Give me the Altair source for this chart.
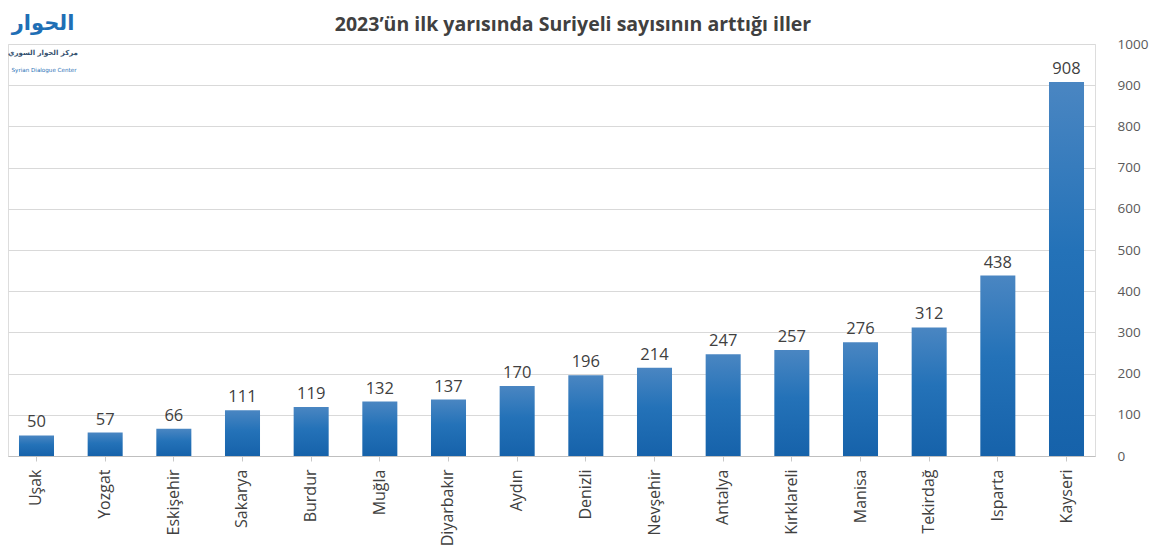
import altair as alt
import pandas as pd

provinces = ["Uşak", "Yozgat", "Eskişehir", "Sakarya", "Burdur", "Muğla", "Diyarbakır", "Aydın",
             "Denizli", "Nevşehir", "Antalya", "Kırklareli", "Manisa", "Tekirdağ", "Isparta", "Kayseri"]
increase = [50, 57, 66, 111, 119, 132, 137, 170, 196, 214, 247, 257, 276, 312, 438, 908]
y_ticks = [0, 100, 200, 300, 400, 500, 600, 700, 800, 900, 1000]
title_text = "2023’ün ilk yarısında Suriyeli sayısının arttığı iller"
logo_texts = ["الحوار", "مركز الحوار السوري", "Syrian Dialogue Center"]

df = pd.DataFrame({"il": provinces, "sayi": increase})

FONT = "Open Sans"
TXT = "#404040"
W, H = 1087, 412

x_enc = alt.X("il:N", sort=provinces, title=None,
              scale=alt.Scale(paddingInner=0.49, paddingOuter=0.16),
              axis=alt.Axis(labelAngle=-90, labelFont=FONT, labelFontSize=16, labelColor=TXT,
                            labelPadding=8, ticks=True, tickSize=5, tickColor="#c8c8c8",
                            domainColor="#bfbfbf", grid=False,
                            labelBaseline="middle", labelAlign="right"))
y_enc = alt.Y("sayi:Q", title=None,
              scale=alt.Scale(domain=[0, 1000], nice=False),
              axis=alt.Axis(orient="right", values=y_ticks, format="d", labelFont=FONT,
                            labelFontSize=13.5, labelColor="#595959", ticks=False, domain=False,
                            labelPadding=22, gridColor="#d9d9d9", gridWidth=1, labelAlign="left"))

bars = alt.Chart(df).mark_bar(
    color=alt.Gradient(gradient="linear", x1=0, x2=0, y1=0, y2=1,
                       stops=[alt.GradientStop(color="#4a86c2", offset=0),
                              alt.GradientStop(color="#2472b8", offset=0.45),
                              alt.GradientStop(color="#1662aa", offset=1)])
).encode(x=x_enc, y=y_enc)

labels = alt.Chart(df).mark_text(font=FONT, fontSize=16.5, color=TXT, dy=-13).encode(
    x=x_enc, y=y_enc, text="sayi:Q")

title = alt.Chart(pd.DataFrame({"t": [title_text]})).mark_text(
    font=FONT, fontSize=19.5, fontWeight="bold", color=TXT, align="center", baseline="alphabetic"
).encode(x=alt.value(565), y=alt.value(-13), text="t:N")

logo_specs = [(logo_texts[0], 35, -20, 21, "#1f6fb5", "bold"),
              (logo_texts[1], 35, 9, 7, "#34506e", "bold"),
              (logo_texts[2], 36, 26, 5.6, "#1f6fb5", "normal")]
logo_layers = []
for t, px, py, fs, c, fw in logo_specs:
    logo_layers.append(
        alt.Chart(pd.DataFrame({"t": [t]})).mark_text(
            font="DejaVu Sans", fontWeight=fw, fontSize=fs, color=c, align="center", baseline="middle"
        ).encode(x=alt.value(px), y=alt.value(py), text="t:N")
    )

chart = alt.layer(bars, labels, title, *logo_layers).properties(
    width=W, height=H,
    autosize=alt.AutoSizeParams(type="none"),
    padding={"left": 0, "top": 36, "right": 1144 - W, "bottom": 542 - 36 - H},
).configure_view(stroke=None).configure(background="white")

chart.save("out.html", embed_options={"renderer": "svg", "actions": False})
